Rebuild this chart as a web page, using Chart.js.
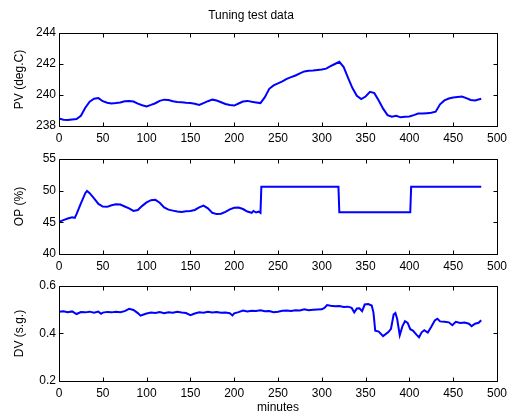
<!DOCTYPE html>
<html>
<head>
<meta charset="utf-8">
<script src="https://cdn.jsdelivr.net/npm/chart.js@4/dist/chart.umd.min.js"></script>
<style>
  html, body { margin: 0; padding: 0; background: #fff; overflow: hidden; }
  canvas { position: absolute; left: 0; }
</style>
</head>
<body>
<canvas id="pv" width="514" height="146" style="top:0px"></canvas>
<canvas id="op" width="514" height="127" style="top:146px"></canvas>
<canvas id="dv" width="514" height="141" style="top:273px"></canvas>
<script>
// PV (deg.C), sampled every 5 min
const pvMinutes = [0,5,10,15,20,25,30,35,40,45,50,55,60,65,70,75,80,85,90,95,
  100,105,110,115,120,125,130,135,140,145,150,155,160,165,170,175,180,185,190,195,
  200,205,210,215,220,225,230,235,240,245,250,255,260,265,270,275,280,285,290,295,
  300,305,310,315,320,325,330,335,340,345,350,355,360,365,370,375,380,385,390,395,
  400,405,410,415,420,425,430,435,440,445,450,455,460,465,470,475,482];
const pvValues = [238.48,238.40,238.38,238.42,238.45,238.66,239.18,239.57,239.76,239.80,
  239.60,239.50,239.45,239.48,239.52,239.60,239.62,239.58,239.44,239.34,
  239.26,239.36,239.47,239.62,239.70,239.68,239.60,239.55,239.53,239.50,
  239.48,239.44,239.36,239.48,239.60,239.70,239.64,239.53,239.42,239.35,
  239.32,239.45,239.58,239.62,239.56,239.52,239.48,239.86,240.40,240.62,
  240.75,240.88,241.04,241.15,241.26,241.40,241.52,241.56,241.58,241.62,
  241.64,241.70,241.86,242.00,242.14,241.80,241.10,240.45,239.95,239.74,
  239.90,240.20,240.12,239.65,239.12,238.70,238.60,238.66,238.56,238.60,
  238.62,238.70,238.80,238.80,238.83,238.85,238.92,239.40,239.65,239.77,
  239.84,239.87,239.90,239.80,239.68,239.64,239.76];

// OP (%)
const opMinutes = [0,5,10,15,18,20,25,30,32,35,40,45,50,55,60,65,70,75,80,85,90,95,
  100,105,110,115,120,125,130,135,140,145,150,155,160,165,170,175,180,185,190,195,
  200,205,210,215,220,222,225,228,230,231,319,320,401,402,482];
const opValues = [45.1,45.35,45.6,45.8,45.7,46.3,48.0,49.6,49.95,49.6,48.8,47.9,47.5,47.45,47.7,47.85,47.8,47.5,47.2,46.8,46.95,47.6,
  48.15,48.5,48.55,48.1,47.35,47.0,46.85,46.7,46.65,46.75,46.8,46.95,47.35,47.65,47.2,46.5,46.3,46.35,46.65,47.05,
  47.3,47.35,47.1,46.7,46.5,46.8,46.55,46.7,46.5,50.6,50.6,46.6,46.6,50.6,50.6];

// DV (s.g.)
const dvMinutes = [0,5,10,15,20,25,30,35,40,45,48,50,55,60,65,70,75,80,85,90,93,95,
  100,105,110,115,120,125,130,135,140,145,150,155,160,165,170,175,180,185,190,195,198,
  200,205,210,215,220,225,230,235,240,245,250,255,260,265,270,275,280,285,290,295,
  300,303,306,310,315,320,325,330,334,337,340,343,346,349,353,357,359,361,365,370,376,379,
  382,384,386,389,392,395,398,401,404,408,411,414,417,421,425,429,432,435,440,445,449,
  453,458,463,468,471,475,479,482];
const dvValues = [0.492,0.494,0.490,0.493,0.482,0.490,0.489,0.492,0.487,0.492,0.483,0.488,0.491,0.489,0.492,0.490,0.494,0.504,0.499,0.486,0.475,0.478,
  0.484,0.488,0.486,0.490,0.485,0.489,0.487,0.491,0.488,0.486,0.477,0.484,0.489,0.487,0.491,0.488,0.490,0.487,0.488,0.485,0.476,
  0.485,0.490,0.497,0.493,0.496,0.495,0.498,0.494,0.495,0.490,0.492,0.496,0.497,0.495,0.498,0.497,0.502,0.498,0.500,0.501,
  0.502,0.508,0.520,0.517,0.515,0.516,0.512,0.513,0.508,0.489,0.505,0.506,0.494,0.522,0.524,0.518,0.488,0.412,0.408,0.389,0.406,0.420,
  0.480,0.486,0.462,0.393,0.430,0.452,0.445,0.418,0.412,0.395,0.384,0.405,0.414,0.404,0.428,0.455,0.462,0.451,0.449,0.447,0.435,
  0.449,0.444,0.446,0.441,0.431,0.441,0.445,0.456];

const xTicks = [0,50,100,150,200,250,300,350,400,450,500];

const font = {family: '"Liberation Sans", Arial, sans-serif', size: 12, weight: 'normal', lineHeight: 1};
Chart.defaults.color = '#000';
Chart.defaults.font = font;

// MATLAB style box with inward tick marks on all four sides
const boxTicks = {
  id: 'boxTicks',
  afterDraw(chart) {
    const {ctx, chartArea: a, scales: {x, y}} = chart;
    const L = Math.round(a.left) + 0.5, R = Math.round(a.right) + 0.5;
    const T = Math.round(a.top) + 0.5, B = Math.round(a.bottom) + 0.5;
    ctx.save();
    ctx.strokeStyle = '#000';
    ctx.lineWidth = 1;
    ctx.beginPath();
    x.ticks.forEach(t => {
      const p = Math.round(x.getPixelForValue(t.value)) + 0.5;
      ctx.moveTo(p, B); ctx.lineTo(p, B - 4);
      ctx.moveTo(p, T); ctx.lineTo(p, T + 4);
    });
    y.ticks.forEach(t => {
      const p = Math.round(y.getPixelForValue(t.value)) + 0.5;
      ctx.moveTo(L, p); ctx.lineTo(L + 4, p);
      ctx.moveTo(R, p); ctx.lineTo(R - 4, p);
    });
    ctx.rect(L, T, R - L, B - T);
    ctx.stroke();
    ctx.restore();
  }
};

function drawPlot(id, times, values, yLabel, yMin, yMax, yStep, opts) {
  const pts = times.map((t, i) => ({x: t, y: values[i]}));
  new Chart(document.getElementById(id), {
    type: 'line',
    data: {datasets: [{data: pts, borderColor: 'rgb(0,0,255)', borderWidth: 2, pointRadius: 0, tension: 0, fill: false}]},
    options: {
      responsive: false,
      animation: false,
      layout: {padding: {left: 0, right: 12, top: opts.top, bottom: 0}},
      plugins: {
        legend: {display: false},
        tooltip: {enabled: false},
        title: opts.title ? {display: true, text: opts.title, color: '#000', font: font, padding: {top: 10, bottom: 11}} : {display: false}
      },
      scales: {
        x: {
          type: 'linear', min: 0, max: 500,
          afterBuildTicks: s => { s.ticks = xTicks.map(v => ({value: v})); },
          ticks: {padding: 7, maxRotation: 0, autoSkip: false, color: '#000', font: font},
          grid: {display: false, drawTicks: false},
          border: {display: false},
          title: opts.xTitle ? {display: true, text: opts.xTitle, color: '#000', font: font, padding: {top: 0, bottom: 0}} : {display: false},
          afterFit: s => { s.height = opts.xh; }
        },
        y: {
          min: yMin, max: yMax,
          ticks: {stepSize: yStep, padding: 3, color: '#000', font: font},
          grid: {display: false, drawTicks: false},
          border: {display: false},
          title: {display: true, text: yLabel, color: '#000', font: font, padding: {top: 14, bottom: 0}},
          afterFit: s => { s.width = 59; }
        }
      }
    },
    plugins: [boxTicks]
  });
}

drawPlot('pv', pvMinutes, pvValues, 'PV (deg.C)', 238, 244, 2, {top: 0, xh: 20, title: 'Tuning test data'});
drawPlot('op', opMinutes, opValues, 'OP (%)', 40, 55, 5, {top: 13, xh: 19});
drawPlot('dv', dvMinutes, dvValues, 'DV (s.g.)', 0.2, 0.6, 0.2, {top: 13, xh: 33, xTitle: 'minutes'});
</script>
</body>
</html>
